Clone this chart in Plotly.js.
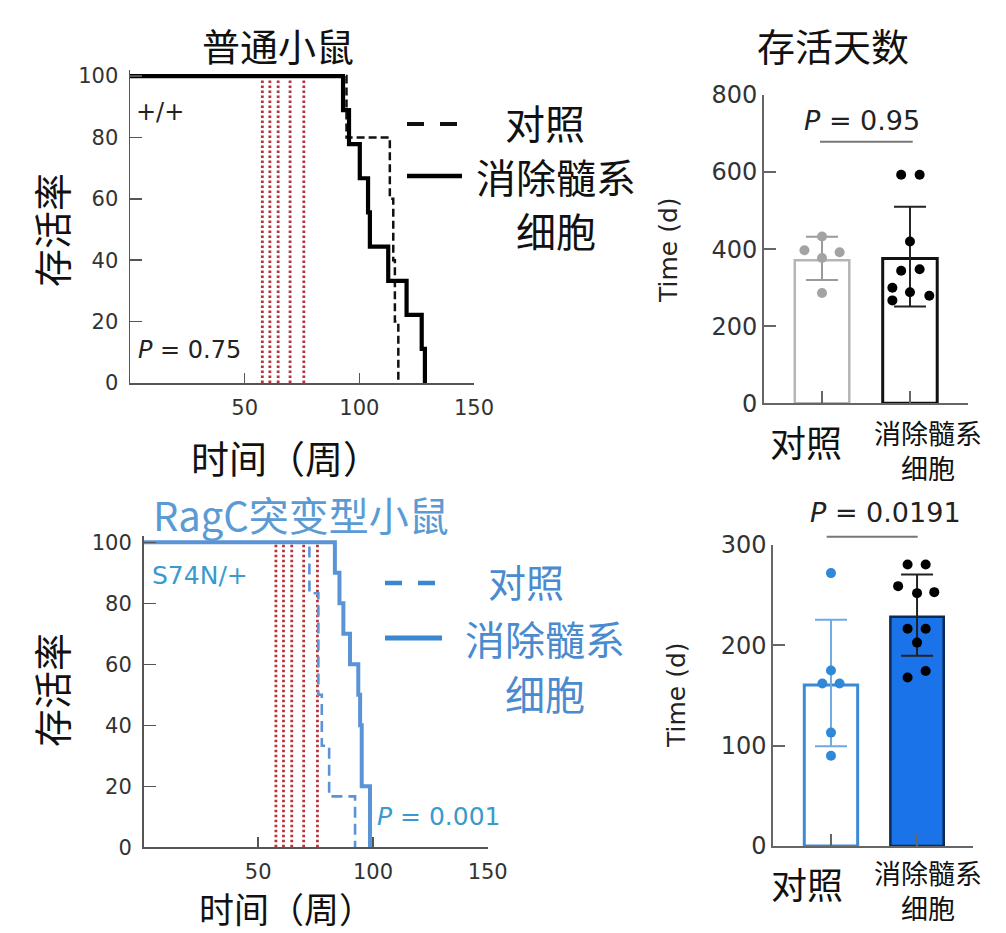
<!DOCTYPE html>
<html><head><meta charset="utf-8">
<script src="https://cdn.plot.ly/plotly-3.0.1.min.js"></script>
<style>html,body{margin:0;padding:0;background:#fff}</style>
</head><body><div id="chart" style="width:1006px;height:933px"></div>
<script>
// ---------------- data ----------------
// Kaplan-Meier curves (weeks, % survival)
const wtCtrlWeeks = [0, 94.4, 113.3, 114.8, 115.5, 117.0];
const wtCtrlSurv  = [100, 80, 60, 40, 20, 0];
const wtDeplWeeks = [0, 92.9, 95.5, 100.2, 103.8, 104.6, 112.6, 120.6, 127.2, 128.6];
const wtDeplSurv  = [100, 88.9, 77.8, 66.7, 55.6, 44.4, 33.3, 22.2, 11.1, 0];
const ragCtrlWeeks = [0, 72.3, 76.2, 77.7, 80.9, 92.2];
const ragCtrlSurv  = [100, 83.3, 50, 33.3, 16.7, 0];
const ragDeplWeeks = [0, 83.4, 85.4, 87.1, 90.0, 93.6, 94.4, 95.1, 98.7];
const ragDeplSurv  = [100, 90, 80, 70, 60, 50, 40, 20, 0];
const treatWeeks   = [57.7, 61.0, 64.6, 69.8, 75.8];

// Survival days (bar charts)
const groups = ['对照', '消除髓系<br>细胞'];
const wtMeanDays = [371, 376];
const wtErrUp    = [61, 134];
const wtErrDown  = [51, 125];
const wtCtrlDays = [433, 397, 392, 377, 286];
const wtDeplDays = [593, 593, 420, 344, 348, 300, 288, 279, 267];
const ragMeanDays = [160.5, 228.6];
const ragErrUp    = [65, 42];
const ragErrDown  = [61, 39];
const ragCtrlDays = [272, 175, 162, 162, 113, 90];
const ragDeplDays = [280.5, 280.5, 259, 252, 253, 216.6, 216.6, 202.7, 168, 174.5];

const survTicks = [0, 20, 40, 60, 80, 100];
const weekTicks = [50, 100, 150];
const pTexts = ['<i>P</i> = 0.75', '<i>P</i> = 0.001', '<i>P</i> = 0.95', '<i>P</i> = 0.0191'];

// ---------------- layout helpers (positions only) ----------------
const wtCtrlJit  = [0, -0.2, 0.2, 0, 0];
const wtDeplJit  = [-0.1, 0.11, 0, -0.1, 0.11, -0.2, 0, 0.22, -0.2];
const ragCtrlJit = [0, 0, -0.1, 0.1, 0, 0];
const ragDeplJit = [-0.11, 0.1, -0.22, 0, 0.2, -0.11, 0.1, 0, -0.11, 0.1];

const W = 1006, H = 933;
const px = v => v / W, py = v => 1 - v / H;
const NUM = 'DejaVu Sans', CJK = 'Noto Sans CJK SC';
const BLUE_T = '#5b9bd5', BLUE_L = '#5a93d6', BLUE_A = '#3a9ad0';

const traces = [];
function redLines(xa, ya) {
  traces.push({
    x: treatWeeks.flatMap(w => [w, w, null]),
    y: treatWeeks.flatMap(() => [0, 100, null]),
    xaxis: xa, yaxis: ya, mode: 'lines', hoverinfo: 'skip',
    line: {color: '#b8323a', width: 2.8, dash: '2.5px,2.5px'}
  });
}
redLines('x', 'y');
redLines('x2', 'y2');
traces.push({x: wtCtrlWeeks, y: wtCtrlSurv, xaxis: 'x', yaxis: 'y', mode: 'lines',
  line: {shape: 'hv', color: '#111', width: 2.5, dash: '8px,4px'}});
traces.push({x: wtDeplWeeks, y: wtDeplSurv, xaxis: 'x', yaxis: 'y', mode: 'lines',
  line: {shape: 'hv', color: '#000', width: 4.2}});
traces.push({x: ragCtrlWeeks, y: ragCtrlSurv, xaxis: 'x2', yaxis: 'y2', mode: 'lines',
  line: {shape: 'hv', color: BLUE_L, width: 2.6, dash: '11px,6px'}});
traces.push({x: ragDeplWeeks, y: ragDeplSurv, xaxis: 'x2', yaxis: 'y2', mode: 'lines',
  line: {shape: 'hv', color: BLUE_L, width: 4}});

function bar(xa, ya, i, mean, up, down, fill, edge, ew, errColor) {
  traces.push({type: 'bar', x: [i], y: [mean[i]], xaxis: xa, yaxis: ya, width: 0.62,
    marker: {color: fill, line: {color: edge, width: ew}},
    error_y: {type: 'data', symmetric: false, array: [up[i]], arrayminus: [down[i]],
      color: errColor, thickness: 2, width: 16}});
}
function dots(xa, ya, i, vals, jit, color) {
  traces.push({type: 'scatter', mode: 'markers', xaxis: xa, yaxis: ya,
    x: vals.map((v, k) => i + jit[k]), y: vals,
    marker: {color: color, size: 10}});
}
bar('x3', 'y3', 0, wtMeanDays, wtErrUp, wtErrDown, '#ffffff', '#b5b5b5', 2.5, '#9a9a9a');
bar('x3', 'y3', 1, wtMeanDays, wtErrUp, wtErrDown, '#ffffff', '#111111', 3, '#222');
dots('x3', 'y3', 0, wtCtrlDays, wtCtrlJit, '#a3a3a3');
dots('x3', 'y3', 1, wtDeplDays, wtDeplJit, '#000');
bar('x4', 'y4', 0, ragMeanDays, ragErrUp, ragErrDown, '#ffffff', '#3b8ad6', 3, '#6fa9e2');
bar('x4', 'y4', 1, ragMeanDays, ragErrUp, ragErrDown, '#1a73e8', '#0d2a52', 2.5, '#222');
dots('x4', 'y4', 0, ragCtrlDays, ragCtrlJit, '#2f88d8');
dots('x4', 'y4', 1, ragDeplDays, ragDeplJit, '#000');

const axBase = {showgrid: false, zeroline: false, showline: true, ticks: 'inside',
  tickfont: {family: NUM, size: 21, color: '#333'}, fixedrange: true};
const survX = (dom) => Object.assign({}, axBase, {domain: dom, range: [0, 150],
  tickvals: weekTicks, ticklen: 10, tickwidth: 1.5, linecolor: '#555', tickcolor: '#555', linewidth: 1.5,
  ticklabelstandoff: 5});
const survY = (dom, anchor) => Object.assign({}, axBase, {domain: dom, range: [0, 102], anchor: anchor,
  tickvals: survTicks, ticklen: 12, tickwidth: 1.5, linecolor: '#555', tickcolor: '#555', linewidth: 1.5,
  ticklabelstandoff: 6});
const barX = (dom, rng) => Object.assign({}, axBase, {domain: dom, range: rng, tickvals: [0, 1],
  ticktext: ['', ''], ticklen: 12, tickwidth: 2, linecolor: '#666', tickcolor: '#666', linewidth: 2});
const barY = (dom, rng, dt) => Object.assign({}, axBase, {domain: dom, range: rng, dtick: dt,
  ticklen: 12, tickwidth: 2, linecolor: '#666', tickcolor: '#666', linewidth: 2,
  tickfont: {family: NUM, size: 24, color: '#333'}});

const xaxis = survX([px(130), px(474)]); xaxis.anchor = 'y';
const xaxis2 = survX([px(143.5), px(487.7)]); xaxis2.anchor = 'y2';
const xaxis3 = barX([px(764), px(968)], [-0.66, 1.66]); xaxis3.anchor = 'y3';
const xaxis4 = barX([px(773.3), px(973)], [-0.67, 1.65]); xaxis4.anchor = 'y4';

const ann = [];
function txt(t, x, y, size, color, family, extra) {
  ann.push(Object.assign({text: t, x: px(x), y: py(y), xref: 'paper', yref: 'paper',
    showarrow: false, xanchor: 'center', yanchor: 'middle',
    font: {family: family || CJK, size: size, color: color || '#111'}}, extra || {}));
}
// multi-line label: one annotation per line, lines spaced by `gap` px
function lines(t, x, y0, gap, size, color) {
  t.split('<br>').forEach((s, k) => txt(s, x, y0 + k * gap, size, color));
}
// titles
txt('普通小鼠', 278, 45, 38);
txt('存活天数', 833, 45, 38);
txt('RagC突变型小鼠', 301, 514, 40, BLUE_T);
txt('存活率', 50, 230, 38, '#111', CJK, {textangle: -90});
txt('存活率', 50, 690, 38, '#111', CJK, {textangle: -90});
txt('时间（周）', 286, 456, 38);
txt('时间（周）', 286, 907, 35);
// panel labels
txt('+/+', 160, 112, 24, '#222', NUM);
txt(pTexts[0], 189, 350, 24, '#222', NUM);
txt('S74N/+', 200, 575, 25, BLUE_A, NUM);
txt(pTexts[1], 439, 816, 25, BLUE_A, NUM);
txt(pTexts[2], 862, 120, 27, '#222', NUM);
txt(pTexts[3], 885, 512, 27, '#222', NUM);
txt('Time (d)', 668, 250, 25, '#222', NUM, {textangle: -90});
txt('Time (d)', 676, 695, 25, '#222', NUM, {textangle: -90});
// legends
txt(groups[0], 545, 122, 40);
lines(groups[1], 556, 176, 54, 40, '#111');
txt(groups[0], 526, 580, 38, '#4a8bd0');
lines(groups[1], 545, 638, 55, 40, '#4a8bd0');
// category labels
txt(groups[0], 806, 441, 36);
txt(groups[1], 928, 450, 27);
txt(groups[0], 807, 883, 36);
txt(groups[1], 928, 890, 27);

const shapes = [
  {type: 'line', xref: 'paper', yref: 'paper', x0: px(407), x1: px(458), y0: py(124), y1: py(124),
    line: {color: '#111', width: 4, dash: '17px,16px'}},
  {type: 'line', xref: 'paper', yref: 'paper', x0: px(407), x1: px(462), y0: py(176), y1: py(176),
    line: {color: '#000', width: 4.5}},
  {type: 'line', xref: 'paper', yref: 'paper', x0: px(385), x1: px(438), y0: py(583), y1: py(583),
    line: {color: '#3b86d0', width: 4.5, dash: '17px,16px'}},
  {type: 'line', xref: 'paper', yref: 'paper', x0: px(385), x1: px(442), y0: py(638), y1: py(638),
    line: {color: '#3b86d0', width: 5}},
  {type: 'line', xref: 'paper', yref: 'paper', x0: px(820), x1: px(912.7), y0: py(141.7), y1: py(141.7),
    line: {color: '#777', width: 2}},
  {type: 'line', xref: 'paper', yref: 'paper', x0: px(826.7), x1: px(917.7), y0: py(536.7), y1: py(536.7),
    line: {color: '#777', width: 2}}
];

const layout = {
  width: W, height: H, margin: {l: 0, r: 0, t: 0, b: 0},
  paper_bgcolor: '#fff', plot_bgcolor: 'rgba(0,0,0,0)', showlegend: false,
  xaxis: xaxis, yaxis: survY([py(383), py(69.9)], 'x'),
  xaxis2: xaxis2, yaxis2: survY([py(847.3), py(536.2)], 'x2'),
  xaxis3: xaxis3, yaxis3: barY([py(403.3), py(95)], [0, 800], 200),
  xaxis4: xaxis4, yaxis4: barY([py(846), py(545)], [0, 300], 100),
  annotations: ann, shapes: shapes, barmode: 'overlay'
};
layout.yaxis3.anchor = 'x3';
layout.yaxis4.anchor = 'x4';

Plotly.newPlot('chart', traces, layout, {displayModeBar: false, staticPlot: true});
</script></body></html>
